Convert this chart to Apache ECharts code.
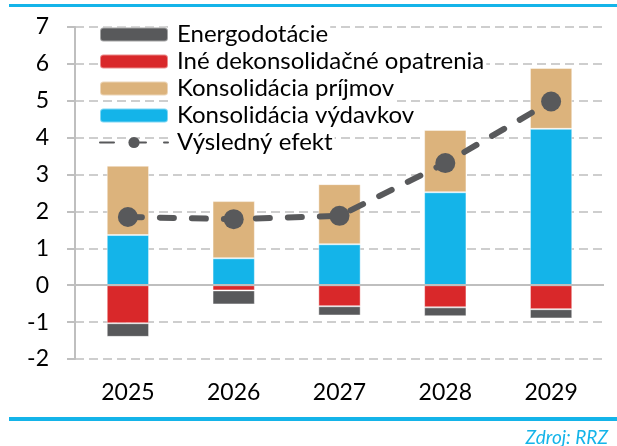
<!DOCTYPE html>
<html>
<head>
<meta charset="utf-8">
<script src="https://cdn.jsdelivr.net/npm/echarts@6/dist/echarts.min.js"></script>
<style>
  html, body { margin: 0; padding: 0; background: #fff; }
  #chart { width: 617px; height: 446px; }
</style>
</head>
<body>
<div id="chart"></div>
<script>
// roky
const years = ['2025', '2026', '2027', '2028', '2029'];

// hodnoty (p.b. HDP), odčítané z grafu
const vydavky = [1.36, 0.73, 1.11, 2.52, 4.24];
const prijmy = [1.88, 1.55, 1.63, 1.69, 1.65];
const ineOpatrenia = [-1.03, -0.14, -0.57, -0.60, -0.65];
const energodotacie = [-0.37, -0.38, -0.25, -0.24, -0.25];
const vysledok = [1.85, 1.79, 1.88, 3.31, 4.98];

const yTicks = [-2, -1, 0, 1, 2, 3, 4, 5, 6, 7];

const FONT = 'Lato';
const BLUE = '#14b4e9';

const chart = echarts.init(document.getElementById('chart'));

const barBorder = { borderColor: 'rgba(255,255,255,0.45)', borderWidth: 1 };

const option = {
    animation: false,
    textStyle: { fontFamily: FONT },
    grid: { left: 75, right: 13, top: 27, bottom: 87 },
    legend: {
        orient: 'vertical',
        left: 94,
        top: 16,
        itemWidth: 68,
        itemHeight: 14,
        itemGap: 0,
        data: ['Energodotácie', 'Iné dekonsolidačné opatrenia', 'Konsolidácia príjmov', 'Konsolidácia výdavkov', 'Výsledný efekt'],
        textStyle: {
            fontFamily: FONT,
            fontSize: 24,
            color: '#000',
            lineHeight: 27,
            backgroundColor: '#fff',
            padding: [0, 2, 0, 4]
        }
    },
    xAxis: {
        type: 'category',
        data: years,
        axisLine: { show: false },
        axisTick: { show: false },
        axisLabel: { fontSize: 23, color: '#000', margin: 22, fontFamily: FONT },
        splitLine: { show: false }
    },
    yAxis: {
        type: 'value',
        min: yTicks[0],
        max: yTicks[yTicks.length - 1],
        interval: 1,
        axisLine: { show: true, lineStyle: { color: '#bfbfbf', width: 2 } },
        axisTick: { show: true, length: 8, lineStyle: { color: '#bfbfbf', width: 2 } },
        axisLabel: { fontSize: 23, color: '#000', margin: 26, fontFamily: FONT },
        splitLine: { lineStyle: { color: '#bfbfbf', width: 1.5, type: [9, 5] } }
    },
    series: [
        {
            name: 'Konsolidácia výdavkov',
            type: 'bar',
            stack: 'a',
            barWidth: '40%',
            data: vydavky,
            itemStyle: Object.assign({ color: BLUE }, barBorder)
        },
        {
            name: 'Konsolidácia príjmov',
            type: 'bar',
            stack: 'a',
            data: prijmy,
            itemStyle: Object.assign({ color: '#dcb37c' }, barBorder)
        },
        {
            name: 'Iné dekonsolidačné opatrenia',
            type: 'bar',
            stack: 'a',
            data: ineOpatrenia,
            itemStyle: Object.assign({ color: '#d9282a' }, barBorder)
        },
        {
            name: 'Energodotácie',
            type: 'bar',
            stack: 'a',
            data: energodotacie,
            itemStyle: Object.assign({ color: '#58595b' }, barBorder),
            // nulová čiara
            markLine: {
                silent: true,
                symbol: 'none',
                label: { show: false },
                lineStyle: { color: '#bfbfbf', width: 2, type: 'solid' },
                data: [{ yAxis: 0 }]
            }
        },
        {
            name: 'Výsledný efekt',
            type: 'line',
            data: vysledok,
            symbol: 'circle',
            symbolSize: 20,
            z: 5,
            lineStyle: { color: '#58595b', width: 6, type: [14, 18], cap: 'round' },
            itemStyle: { color: '#58595b' }
        }
    ],
    graphic: [
        { type: 'rect', shape: { x: 9, y: 4, width: 608, height: 3 }, style: { fill: BLUE } },
        { type: 'rect', shape: { x: 9, y: 417, width: 608, height: 4 }, style: { fill: BLUE } },
        {
            type: 'text',
            right: 9,
            top: 428,
            style: { text: 'Zdroj: RRZ', fill: BLUE, font: 'italic 19px Lato' }
        }
    ]
};

chart.setOption(option);
</script>
</body>
</html>
